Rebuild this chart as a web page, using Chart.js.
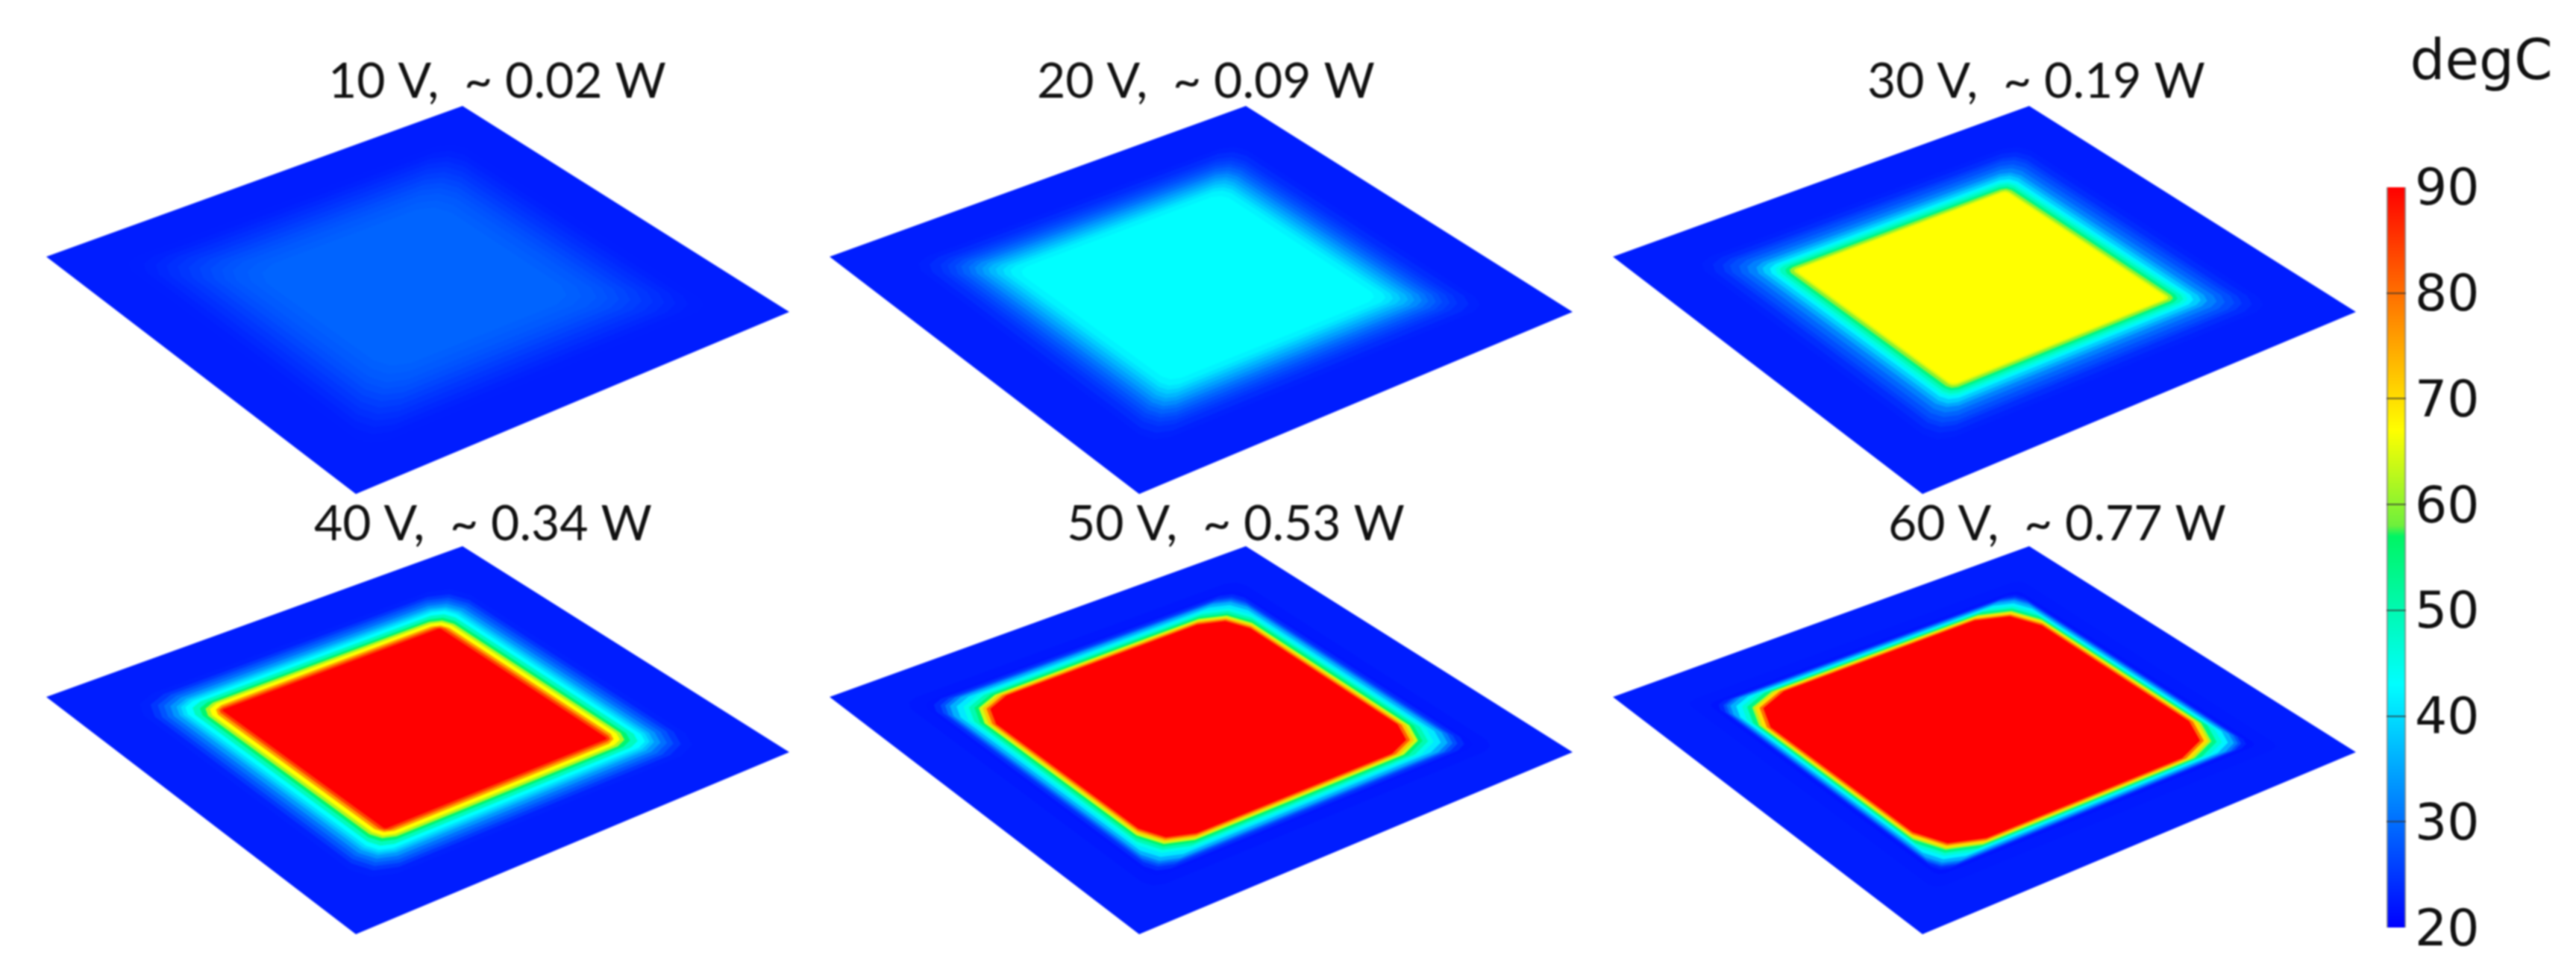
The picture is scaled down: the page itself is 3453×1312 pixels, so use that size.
<!DOCTYPE html>
<html>
<head>
<meta charset="utf-8">
<script src="https://cdn.jsdelivr.net/npm/chart.js@4/dist/chart.umd.min.js"></script>
<style>
  html, body { margin: 0; background: #fff; }
  #wrap { position: relative; width: 3453px; height: 1312px; overflow: hidden; }
  canvas { position: absolute; filter: blur(1.1px); }
  #plates { left: 0; top: 0; }
  #bar { left: 3170px; top: 0; }
</style>
</head>
<body>
<div id="wrap">
  <canvas id="plates" width="3170" height="1312"></canvas>
  <canvas id="bar" width="283" height="1312"></canvas>
</div>
<script>
const panelTitles = ['10 V,  ~ 0.02 W', '20 V,  ~ 0.09 W', '30 V,  ~ 0.19 W', '40 V,  ~ 0.34 W', '50 V,  ~ 0.53 W', '60 V,  ~ 0.77 W'];
const tickLabels = [20, 30, 40, 50, 60, 70, 80, 90];

// temperature (degC), going inwards from the rim.
// reach = half width of the contour on the plate (1 = rim), cut = how much its corners are chamfered
const reach10V = [1, .80, .76, .73, .70, .67, .64, .61, .58, .55, .52, .48, .44];
const temp10V = [22.6, 22.7, 23.1, 23.6, 24.2, 24.9, 25.6, 26.3, 27, 27.6, 28.1, 28.6, 29];
const cut10V = [0, .08, .09, .1, .1, .1, .1, .1, .1, .1, .1, .1, .1];

const reach20V = [1, .78, .75, .72, .70, .68, .66, .64, .62, .60, .58, .56, .54, .52, .49];
const temp20V = [22.6, 23, 24, 25, 26, 27.3, 28.8, 30.5, 32.5, 34.5, 36.5, 38.5, 40.5, 42, 43];
const cut20V = [0, .08, .08, .08, .08, .08, .07, .07, .06, .06, .05, .05, .05, .05, .05];

const reach30V = [1, .78, .75, .72, .70, .675, .65, .625, .605, .585, .57, .555, .54, .525, .51, .50];
const temp30V = [22.6, 23, 24, 25.5, 27, 29, 31.5, 35, 38.5, 42, 45.5, 49, 54, 60, 65, 67];
const cut30V = [0, .08, .08, .07, .07, .07, .06, .06, .05, .05, .05, .04, .04, .03, .02, .02];

const reach40V = [1, .78, .75, .73, .71, .69, .67, .655, .64, .62, .60, .585, .57, .55, .535, .52];
const temp40V = [22.6, 23, 25, 27.5, 30, 33.5, 37, 40, 43, 49, 56, 62, 67, 76, 84, 90];
const cut40V = [0, .12, .12, .12, .11, .10, .09, .08, .07, .07, .07, .07, .06, .05, .03, .01];

const reach50V = [1, .80, .75, .735, .72, .71, .70, .685, .672, .66, .648, .636, .625, .615, .605];
const temp50V = [22.6, 22.2, 22, 24, 27, 31, 36, 41, 45, 50, 56, 64, 72, 81, 90];
const cut50V = [0, .06, .05, .07, .08, .09, .10, .11, .13, .14, .15, .15, .15, .15, .15];

const reach60V = [1, .80, .74, .725, .718, .712, .705, .695, .685, .68, .672, .664, .655, .645];
const temp60V = [22.6, 22.3, 21.8, 23.5, 27, 31, 36, 42, 47, 54, 62, 70, 80, 90];
const cut60V = [0, .04, .03, .05, .07, .08, .09, .11, .13, .16, .18, .18, .19, .19];

const panelReach = [reach10V, reach20V, reach30V, reach40V, reach50V, reach60V];
const panelTemp = [temp10V, temp20V, temp30V, temp40V, temp50V, temp60V];
const panelCut = [cut10V, cut20V, cut30V, cut40V, cut50V, cut60V];

// colour scale of the bar
const scaleTemps = [20, 43, 57, 58, 67, 90];
const scaleColors = [[0, 0, 255], [0, 255, 255], [0, 245, 100], [110, 240, 60], [255, 255, 0], [255, 0, 0]];

// figure layout: one plate's corners, then where each panel sits
const plateCorners = { left: [62, 344], top: [620, 142], right: [1058, 418], bottom: [477, 662] };
const panelShiftX = [0, 1050, 2100, 0, 1050, 2100];
const panelShiftY = [0, 0, 0, 590, 590, 590];
const titleX = [440, 1390, 2503, 421, 1430, 2531];
const titleY = [131, 131, 131, 724, 724, 724];

function tempColor(t) {
    let i = 0;
    while (i < scaleTemps.length - 2 && t > scaleTemps[i + 1]) i++;
    const f = Math.min(1, Math.max(0, (t - scaleTemps[i]) / (scaleTemps[i + 1] - scaleTemps[i])));
    const c = scaleColors[i].map((v, k) => Math.round(v + (scaleColors[i + 1][k] - v) * f));
    return `rgb(${c[0]},${c[1]},${c[2]})`;
}

// square (-1..1) to the plate as seen in perspective
function projector(c) {
    const x0 = c.left[0], y0 = c.left[1], x1 = c.top[0], y1 = c.top[1];
    const x2 = c.right[0], y2 = c.right[1], x3 = c.bottom[0], y3 = c.bottom[1];
    const dx1 = x1 - x2, dx2 = x3 - x2, sx = x0 - x1 + x2 - x3;
    const dy1 = y1 - y2, dy2 = y3 - y2, sy = y0 - y1 + y2 - y3;
    const d = dx1 * dy2 - dx2 * dy1;
    const g = (sx * dy2 - dx2 * sy) / d, h = (dx1 * sy - sx * dy1) / d;
    const a = x1 - x0 + g * x1, b = x3 - x0 + h * x3, e = y1 - y0 + g * y1, f = y3 - y0 + h * y3;
    return (p, q) => {
        const u = (p + 1) / 2, v = (q + 1) / 2, w = g * u + h * v + 1;
        return [(a * u + b * v + x0) / w, (e * u + f * v + y0) / w];
    };
}
const project = projector(plateCorners);

function contour(reach, cut) {
    const s = reach, n = reach - cut, m = reach - cut * 0.3; // m: the chamfer bulges a little at the corner
    const corners = cut > 0
        ? [[n, -s], [m, -m], [s, -n], [s, n], [m, m], [n, s], [-n, s], [-m, m], [-s, n], [-s, -n], [-m, -m], [-n, -s]]
        : [[s, -s], [s, s], [-s, s], [-s, -s]];
    return corners.concat([corners[0]]);
}

const datasets = [];
panelTitles.forEach((title, i) => {
    panelTemp[i].forEach((t, k) => {
        const points = contour(panelReach[i][k], panelCut[i][k]).map(([p, q]) => {
            const xy = project(p, q);
            return { x: xy[0] + panelShiftX[i], y: xy[1] + panelShiftY[i] };
        });
        datasets.push({
            label: title,
            data: points,
            order: -k, // inner contours go on top
            showLine: true,
            fill: 'shape',
            backgroundColor: tempColor(t),
            borderWidth: 0,
            pointRadius: 0,
            clip: false
        });
    });
});

const titlesPlugin = {
    id: 'panelTitles',
    afterDraw(chart) {
        const ctx = chart.ctx;
        ctx.save();
        ctx.font = '66px Lato';
        ctx.fillStyle = '#111';
        ctx.textBaseline = 'alphabetic';
        panelTitles.forEach((title, i) => {
            ctx.fillText(title, chart.scales.x.getPixelForValue(titleX[i]), chart.scales.y.getPixelForValue(titleY[i]));
        });
        ctx.restore();
    }
};

new Chart(document.getElementById('plates'), {
    type: 'scatter',
    data: { datasets: datasets },
    plugins: [titlesPlugin],
    options: {
        responsive: false,
        animation: false,
        devicePixelRatio: 1,
        plugins: { legend: { display: false }, tooltip: { enabled: false } },
        scales: {
            x: { type: 'linear', display: false, min: 0, max: 3170 },
            y: { type: 'linear', display: false, min: 0, max: 1312, reverse: true }
        }
    }
});

function barGradient(context) {
    const area = context.chart.chartArea;
    if (!area) return 'blue';
    const grad = context.chart.ctx.createLinearGradient(0, area.bottom, 0, area.top);
    const lo = scaleTemps[0], hi = scaleTemps[scaleTemps.length - 1];
    scaleTemps.forEach((t, i) => grad.addColorStop((t - lo) / (hi - lo), tempColor(t)));
    return grad;
}

new Chart(document.getElementById('bar'), {
    type: 'bar',
    data: {
        labels: ['degC'],
        datasets: [{
            data: [[tickLabels[0], tickLabels[tickLabels.length - 1]]],
            backgroundColor: barGradient,
            borderColor: 'rgba(130,130,130,0.9)',
            borderWidth: { left: 2, right: 2, top: 0, bottom: 0 },
            borderSkipped: false,
            barPercentage: 1,
            categoryPercentage: 1
        }]
    },
    options: {
        responsive: false,
        animation: false,
        devicePixelRatio: 1,
        layout: { padding: { left: 29, bottom: 69 } },
        plugins: {
            legend: { display: false },
            tooltip: { enabled: false },
            title: {
                display: true,
                text: 'degC',
                color: '#111',
                font: { family: 'DejaVu Sans', size: 74, weight: 'normal', lineHeight: 1.2 },
                padding: { top: 42, bottom: 120 }
            }
        },
        scales: {
            x: { display: false },
            y: {
                position: 'right',
                min: 20,
                max: 90,
                afterFit(scale) { scale.width = 228; },
                border: { display: false },
                grid: {
                    z: 1,
                    drawTicks: false,
                    borderDash: [4, 18, 4],
                    color: (c) => (c.tick.value === 20 || c.tick.value === 90) ? 'transparent' : 'rgba(50,50,50,0.7)',
                    lineWidth: 2
                },
                ticks: {
                    stepSize: 10,
                    padding: 12,
                    labelOffset: 6,
                    color: '#111',
                    font: { family: 'DejaVu Sans', size: 68 },
                    callback: (v) => tickLabels.includes(v) ? String(v) : ''
                }
            }
        }
    }
});
</script>
</body>
</html>
